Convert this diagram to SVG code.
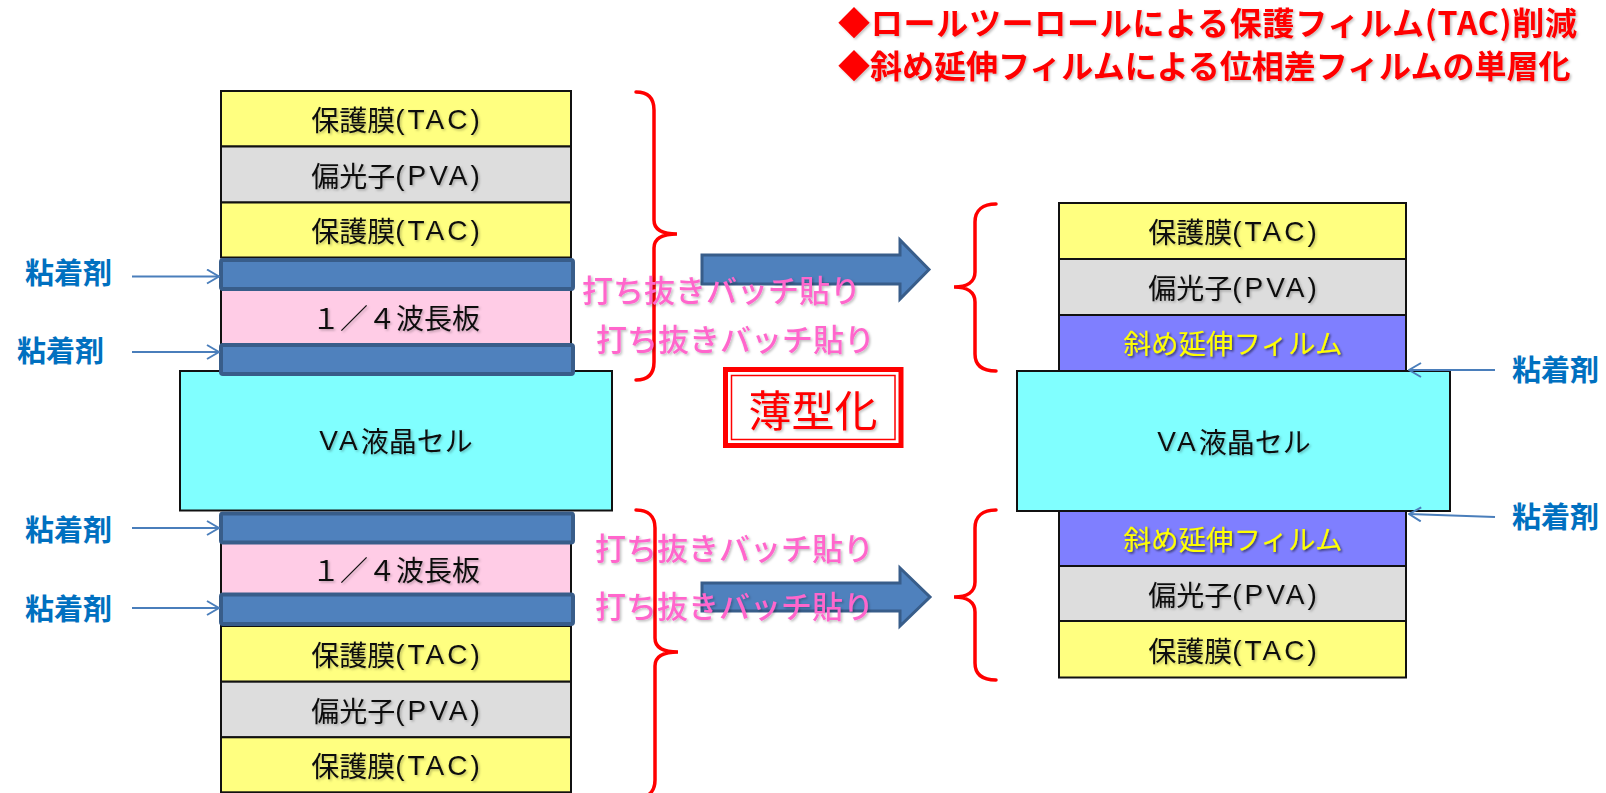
<svg xmlns="http://www.w3.org/2000/svg" width="1606" height="793" viewBox="0 0 1606 793">
<style>
.lay{stroke:#111;stroke-width:2}
.tac{fill:#FFFF80}
.pva{fill:#DDDDDD}
.qw{fill:#FFCCE6}
.va{fill:#80FFFF}
.pur{fill:#7F7FFF}
.adh{fill:#4F81BD;stroke:#385D8A;stroke-width:4}
.t{font-family:"Noto Sans CJK JP","Noto Sans CJK SC",sans-serif;font-size:28px;fill:#111;text-anchor:middle;dominant-baseline:central}
.lat{font-family:"Liberation Sans","Noto Sans CJK JP",sans-serif;letter-spacing:3px}
.ty{font-family:"Noto Sans CJK JP",sans-serif;font-size:27.5px;fill:#FFFF00;text-anchor:middle;dominant-baseline:central}
.lbl{font-family:"Noto Sans CJK JP",sans-serif;font-size:29px;font-weight:bold;fill:#0070C0;dominant-baseline:central}
.pink{font-family:"Noto Sans CJK JP",sans-serif;font-size:31px;font-weight:500;fill:#FF66CC;dominant-baseline:central}
.title{font-family:"Noto Sans CJK JP",sans-serif;font-size:32px;font-weight:bold;fill:#FF0000;dominant-baseline:central}
.brace{fill:none;stroke:#FF0000;stroke-width:3.5;stroke-linecap:round}
.ptr{fill:none;stroke:#4A7EBB;stroke-width:2}
.big{fill:#4F81BD;stroke:#385D8A;stroke-width:3}
</style>
<defs>
<marker id="open" markerWidth="14" markerHeight="16" refX="13" refY="8" orient="auto" markerUnits="userSpaceOnUse">
<path d="M1,1 L13,8 L1,15" fill="none" stroke="#4A7EBB" stroke-width="2"/>
</marker>
<filter id="sh" x="-10%" y="-20%" width="120%" height="140%">
<feDropShadow dx="1.5" dy="1.5" stdDeviation="1" flood-color="#000" flood-opacity="0.25"/>
</filter>
<filter id="shd" x="-10%" y="-20%" width="120%" height="140%">
<feDropShadow dx="1.5" dy="1.5" stdDeviation="1" flood-color="#000" flood-opacity="0.6"/>
</filter>
</defs>

<g id="title">
<text class="title" x="838" y="21" textLength="739" lengthAdjust="spacing" filter="url(#sh)">◆ロールツーロールによる保護フィルム(TAC)削減</text>
<text class="title" x="838" y="64" filter="url(#sh)">◆斜め延伸フィルムによる位相差フィルムの単層化</text>
</g>

<!-- Left stack -->
<g id="L-tac1"><rect class="lay tac" x="221" y="91" width="350" height="55.5"/><text class="t" x="397" y="119" filter="url(#sh)">保護膜<tspan class="lat">(TAC)</tspan></text></g>
<g id="L-pva1"><rect class="lay pva" x="221" y="146.5" width="350" height="56"/><text class="t" x="397" y="175" filter="url(#sh)">偏光子<tspan class="lat">(PVA)</tspan></text></g>
<g id="L-tac2"><rect class="lay tac" x="221" y="202.5" width="350" height="55"/><text class="t" x="397" y="230" filter="url(#sh)">保護膜<tspan class="lat">(TAC)</tspan></text></g>
<g id="L-qw1"><rect class="lay qw" x="221" y="290" width="350" height="54"/><text class="t" x="396" y="317" font-size="26" filter="url(#sh)">１／４波長板</text></g>
<g id="L-va"><rect class="lay va" x="180" y="371" width="432" height="139.5"/><text class="t" x="396" y="440" filter="url(#sh)"><tspan class="lat">VA</tspan>液晶セル</text></g>
<g id="L-qw2"><rect class="lay qw" x="221" y="543" width="350" height="51"/><text class="t" x="396" y="568.5" font-size="26" filter="url(#sh)">１／４波長板</text></g>
<g id="L-tac3"><rect class="lay tac" x="221" y="626" width="350" height="55.7"/><text class="t" x="397" y="654" filter="url(#sh)">保護膜<tspan class="lat">(TAC)</tspan></text></g>
<g id="L-pva2"><rect class="lay pva" x="221" y="681.7" width="350" height="55.6"/><text class="t" x="397" y="709.5" filter="url(#sh)">偏光子<tspan class="lat">(PVA)</tspan></text></g>
<g id="L-tac4"><rect class="lay tac" x="221" y="737.3" width="350" height="55"/><text class="t" x="397" y="765" filter="url(#sh)">保護膜<tspan class="lat">(TAC)</tspan></text></g>
<g id="L-adh1"><rect class="adh" x="221" y="260" width="352" height="29" rx="2"/></g>
<g id="L-adh2"><rect class="adh" x="221" y="345" width="352" height="29" rx="2"/></g>
<g id="L-adh3"><rect class="adh" x="221" y="513.5" width="352" height="29" rx="2"/></g>
<g id="L-adh4"><rect class="adh" x="221" y="594.5" width="352" height="29.5" rx="2"/></g>

<!-- Right stack -->
<g id="R-tac1"><rect class="lay tac" x="1059" y="203" width="347" height="56"/><text class="t" x="1234" y="231" filter="url(#sh)">保護膜<tspan class="lat">(TAC)</tspan></text></g>
<g id="R-pva1"><rect class="lay pva" x="1059" y="259" width="347" height="56"/><text class="t" x="1234" y="287" filter="url(#sh)">偏光子<tspan class="lat">(PVA)</tspan></text></g>
<g id="R-film1"><rect class="lay pur" x="1059" y="315" width="347" height="56"/><text class="ty" x="1233" y="342" filter="url(#shd)">斜め延伸フィルム</text></g>
<g id="R-va"><rect class="lay va" x="1017" y="371" width="433" height="140"/><text class="t" x="1234" y="441" filter="url(#sh)"><tspan class="lat">VA</tspan>液晶セル</text></g>
<g id="R-film2"><rect class="lay pur" x="1059" y="511" width="347" height="55"/><text class="ty" x="1233" y="538" filter="url(#shd)">斜め延伸フィルム</text></g>
<g id="R-pva2"><rect class="lay pva" x="1059" y="566" width="347" height="55"/><text class="t" x="1234" y="593.5" filter="url(#sh)">偏光子<tspan class="lat">(PVA)</tspan></text></g>
<g id="R-tac2"><rect class="lay tac" x="1059" y="621" width="347" height="56.5"/><text class="t" x="1234" y="649.5" filter="url(#sh)">保護膜<tspan class="lat">(TAC)</tspan></text></g>

<!-- Labels -->
<g id="lbl-L1"><text class="lbl" x="25" y="271">粘着剤</text></g>
<g id="lbl-L2"><text class="lbl" x="17" y="349">粘着剤</text></g>
<g id="lbl-L3"><text class="lbl" x="25" y="528">粘着剤</text></g>
<g id="lbl-L4"><text class="lbl" x="25" y="607">粘着剤</text></g>
<g id="lbl-R1"><text class="lbl" x="1512" y="368">粘着剤</text></g>
<g id="lbl-R2"><text class="lbl" x="1512" y="515">粘着剤</text></g>

<g id="thin">
<rect x="725.5" y="369.5" width="175.5" height="76" fill="#fff" stroke="#FF0000" stroke-width="5"/>
<rect x="731.5" y="375.5" width="163.5" height="64" fill="none" stroke="#FF0000" stroke-width="1.5"/>
<text x="813" y="408" font-family="Noto Sans CJK JP, sans-serif" font-size="43" fill="#FF0000" text-anchor="middle" dominant-baseline="central" filter="url(#sh)">薄型化</text>
</g>

<g id="connectors">
<line class="ptr" x1="132" y1="276.5" x2="219" y2="276.5" marker-end="url(#open)"/>
<line class="ptr" x1="132" y1="352" x2="219" y2="352" marker-end="url(#open)"/>
<line class="ptr" x1="132" y1="528" x2="219" y2="528" marker-end="url(#open)"/>
<line class="ptr" x1="132" y1="608" x2="219" y2="608" marker-end="url(#open)"/>
<line class="ptr" x1="1495" y1="370" x2="1409" y2="370" marker-end="url(#open)"/>
<line class="ptr" x1="1495" y1="517" x2="1409" y2="514" marker-end="url(#open)"/>
<polygon class="big" points="702,255 900,255 900,240 929,269.5 900,299 900,284 702,284"/>
<polygon class="big" points="702,583 900,583 900,568 930,597 900,626 900,611 702,611"/>
<path class="brace" d="M636,92 C648,92 654,98 654,110 L654,220 C654,229 662,234 677,234 C662,234 654,239 654,248 L654,362 C654,374 648,380 636,380"/>
<path class="brace" d="M636,510 C648,510 655,516 655,528 L655,638 C655,647 663,652 678,652 C663,652 655,657 655,666 L655,780 C655,792 648,798 636,798"/>
<path class="brace" d="M996,204 C983,204 975,210 975,222 L975,272 C975,282 967,287 954,287 C967,287 975,292 975,302 L975,354 C975,366 983,371 996,371"/>
<path class="brace" d="M996,510 C983,510 975,516 975,528 L975,582 C975,592 967,597 954,597 C967,597 975,602 975,612 L975,663 C975,675 983,680 996,680"/>
</g>

<g id="pink-text">
<text class="pink" x="582" y="288" filter="url(#sh)">打ち抜きバッチ貼り</text>
<text class="pink" x="596" y="337" filter="url(#sh)">打ち抜きバッチ貼り</text>
<text class="pink" x="595" y="546" filter="url(#sh)">打ち抜きバッチ貼り</text>
<text class="pink" x="595" y="604" filter="url(#sh)">打ち抜きバッチ貼り</text>
</g>
</svg>
